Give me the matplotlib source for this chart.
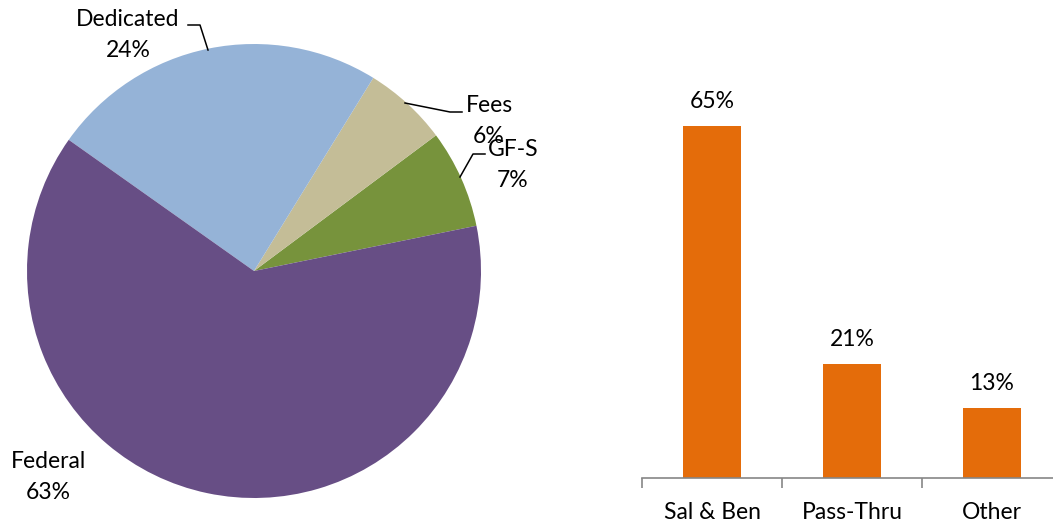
import numpy as np
import matplotlib
matplotlib.use("Agg")
import matplotlib.pyplot as plt

plt.rcParams['font.family'] = ['Lato', 'DejaVu Sans']

# pie data (counter-clockwise from the right)
pie_labels = ["GF-S", "Fees", "Dedicated", "Federal"]
pie_values = [7, 6, 24, 63]
pie_colors = ["#77933C", "#C4BD97", "#95B3D7", "#674E85"]

# bar data
bar_labels = ["Sal & Ben", "Pass-Thru", "Other"]
bar_values = [65, 21, 13]
bar_color = "#E46C0A"

FS = 16.5
W, H = 1053, 527
fig = plt.figure(figsize=(W / 100, H / 100), dpi=100)

# ---- pie ----
cx, cy, r = 254, 271, 227
ax = fig.add_axes([(cx - r) / W, (H - cy - r) / H, 2 * r / W, 2 * r / H])
ax.pie(pie_values, colors=pie_colors, startangle=11.5, counterclock=True,
       radius=1, wedgeprops=dict(linewidth=0))
ax.set_xlim(-1, 1)
ax.set_ylim(-1, 1)
ax.set_aspect('auto')
ax.axis('off')

def px(x, y):
    # pixel position -> pie data coords
    return (x - cx) / r, (cy - y) / r

# labels (pixel positions)
label_pos = {"Dedicated": (128, 35), "Fees": (489, 121),
             "GF-S": (513, 165), "Federal": (48, 477)}
leaders = {"Dedicated": [(188, 25), (200, 25), (208, 50)],
           "Fees": [(405, 103), (450, 112), (462, 112)],
           "GF-S": [(485, 154), (473, 154), (460, 177)]}
for name, val in zip(pie_labels, pie_values):
    x, y = px(*label_pos[name])
    ax.text(x, y, f"{name}\n{val}%", ha='center', va='center', fontsize=FS,
            linespacing=1.6, clip_on=False)
    if name in leaders:
        pts = np.array([px(*p) for p in leaders[name]])
        ax.plot(pts[:, 0], pts[:, 1], color='black', lw=1.1, clip_on=False)

# ---- bars ----
left, base, step = 642, 478, 140
ymax = 70
hpx = ymax * 5.415
bx = fig.add_axes([left / W, (H - base) / H, 3 * step / W, hpx / H])
xs = np.arange(len(bar_values))
bx.bar(xs, bar_values, width=0.41, color=bar_color)
bx.set_xlim(-0.5, 2.5)
bx.set_ylim(0, ymax)
for x, v in zip(xs, bar_values):
    bx.annotate(f"{v}%", (x, v), xytext=(0, 10), textcoords='offset points',
                ha='center', va='bottom', fontsize=FS)
for s in ['top', 'right', 'left']:
    bx.spines[s].set_visible(False)
bx.spines['bottom'].set_color('#868686')
bx.spines['bottom'].set_linewidth(1.2)
bx.set_yticks([])
bx.set_xticks(xs)
bx.set_xticklabels(bar_labels, fontsize=FS)
bx.tick_params(axis='x', which='major', length=0, pad=17)
bx.set_xticks(np.arange(-0.5, 3, 1), minor=True)
bx.tick_params(axis='x', which='minor', length=7, width=1.2, color='#868686')

fig.savefig("out.png", dpi=100)
